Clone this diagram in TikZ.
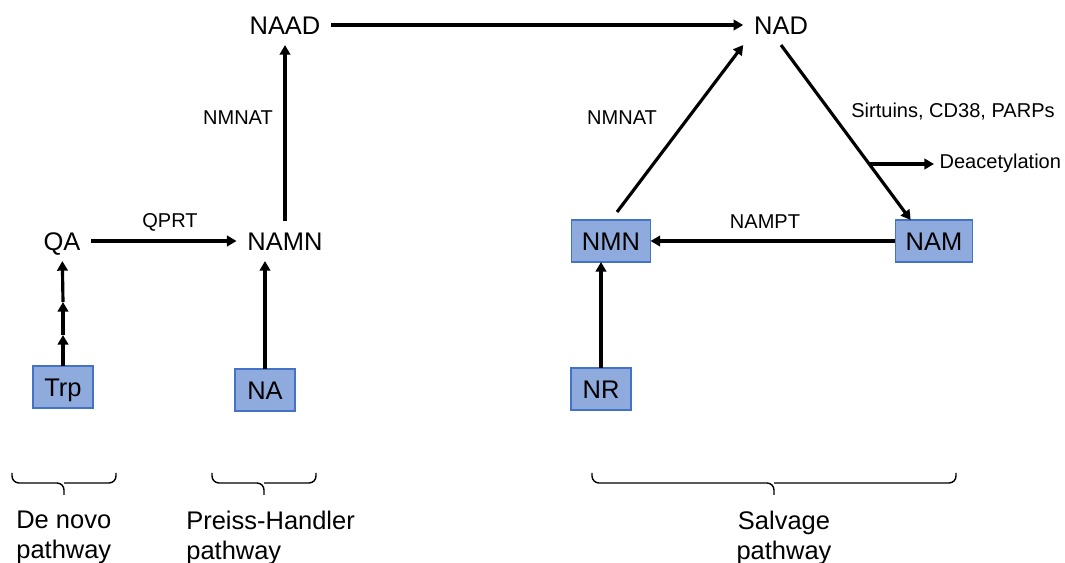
\documentclass[tikz,border=0pt]{standalone}
\usepackage{fontspec}
\setmainfont{Liberation Sans}
\usetikzlibrary{arrows.meta}
\definecolor{boxfill}{HTML}{8FAADC}
\definecolor{boxline}{HTML}{4472C4}
\tikzset{
  met/.style={inner sep=6pt, text height=10.4pt, text depth=0pt, font=\fontsize{14.5}{17}\selectfont},
  metbox/.style={met, draw=boxline, line width=0.6pt, fill=boxfill,
    inner xsep=6pt, minimum width=1.2cm, minimum height=0.84cm, outer sep=0pt},
  enz/.style={inner sep=3pt, font=\fontsize{11.4}{13}\selectfont},
  rxn/.style={line width=1.8pt, -{Triangle[length=5.5pt,width=6pt]}},
  path/.style={anchor=north, inner sep=0pt, font=\fontsize{14.5}{17}\selectfont}
}
\begin{document}
\begin{tikzpicture}[x=0.02cm,y=-0.02cm]
        \useasboundingbox (0,0) rectangle (1065,563);
        %% metabolites
        \node[met] (naad) at (285,25) {NAAD};
        \node[met] (nad) at (781,25) {NAD};
        \node[met] (qa) at (62,241) {QA};
        \node[met] (namn) at (285,241) {NAMN};
        \node[metbox] (trp) at (63,387) {Trp};
        \node[metbox] (na) at (265,390) {NA};
        \node[metbox] (nmn) at (611,241) {NMN};
        \node[metbox] (nam) at (934,241) {NAM};
        \node[metbox] (nr) at (601,389) {NR};
        %% de novo: several steps from Trp to QA
        \coordinate (s1) at (63,335);
        \coordinate (s2) at (63,302);
        \draw[rxn] (trp) -- (s1);
        \draw[rxn] (s1) -- (s2);
        \draw[rxn] (s2) -- (qa);
        %% Preiss-Handler
        \draw[rxn] (qa) -- (namn);
        \draw[rxn] (na.north) -- (na.north |- namn.south);
        \draw[rxn] (namn) -- (naad);
        \draw[rxn] (naad) -- (nad);
        %% salvage
        \draw[rxn] (nr.north) -- (nr.north |- nmn.south);
        \draw[rxn,shorten <=0.2cm] (nmn.north) -- (nad.south west);
        \draw[rxn] (nad.south) -- coordinate[pos=0.68] (br) (nam.138);
        \draw[rxn] (nam) -- (nmn);
        \node[enz,anchor=west] (deac) at (934,163) {Deacetylation};
        \draw[rxn] (br) -- (br -| deac.west);
        %% enzymes
        \node[enz] (qprt) at (170,222) {QPRT};
        \node[enz] (nmnat) at (238,118) {NMNAT};
        \node[enz] (nmnats) at (622,118) {NMNAT};
        \node[enz] (nampt) at (765,222) {NAMPT};
        \node[enz] (sirt) at (953,112) {Sirtuins, CD38, PARPs};
        %% braces and pathway names
        \foreach \l/\r in {12/116,212/316,592/956}
            \draw[line width=0.8pt,rounded corners=4] (\l,473) |- ({(\l+\r)/2},483) -- ({(\l+\r)/2},495)
                ({(\l+\r)/2},483) -| (\r,473);
        \node[path,anchor=north west,align=left] (denovo) at (16,511) {De novo\\pathway};
        \node[path,anchor=north west,align=left] (preiss) at (186,511) {Preiss-Handler\\pathway};
        \node[path,align=center] (salvage) at (784,511) {Salvage\\pathway};
    \end{tikzpicture}
\end{document}
